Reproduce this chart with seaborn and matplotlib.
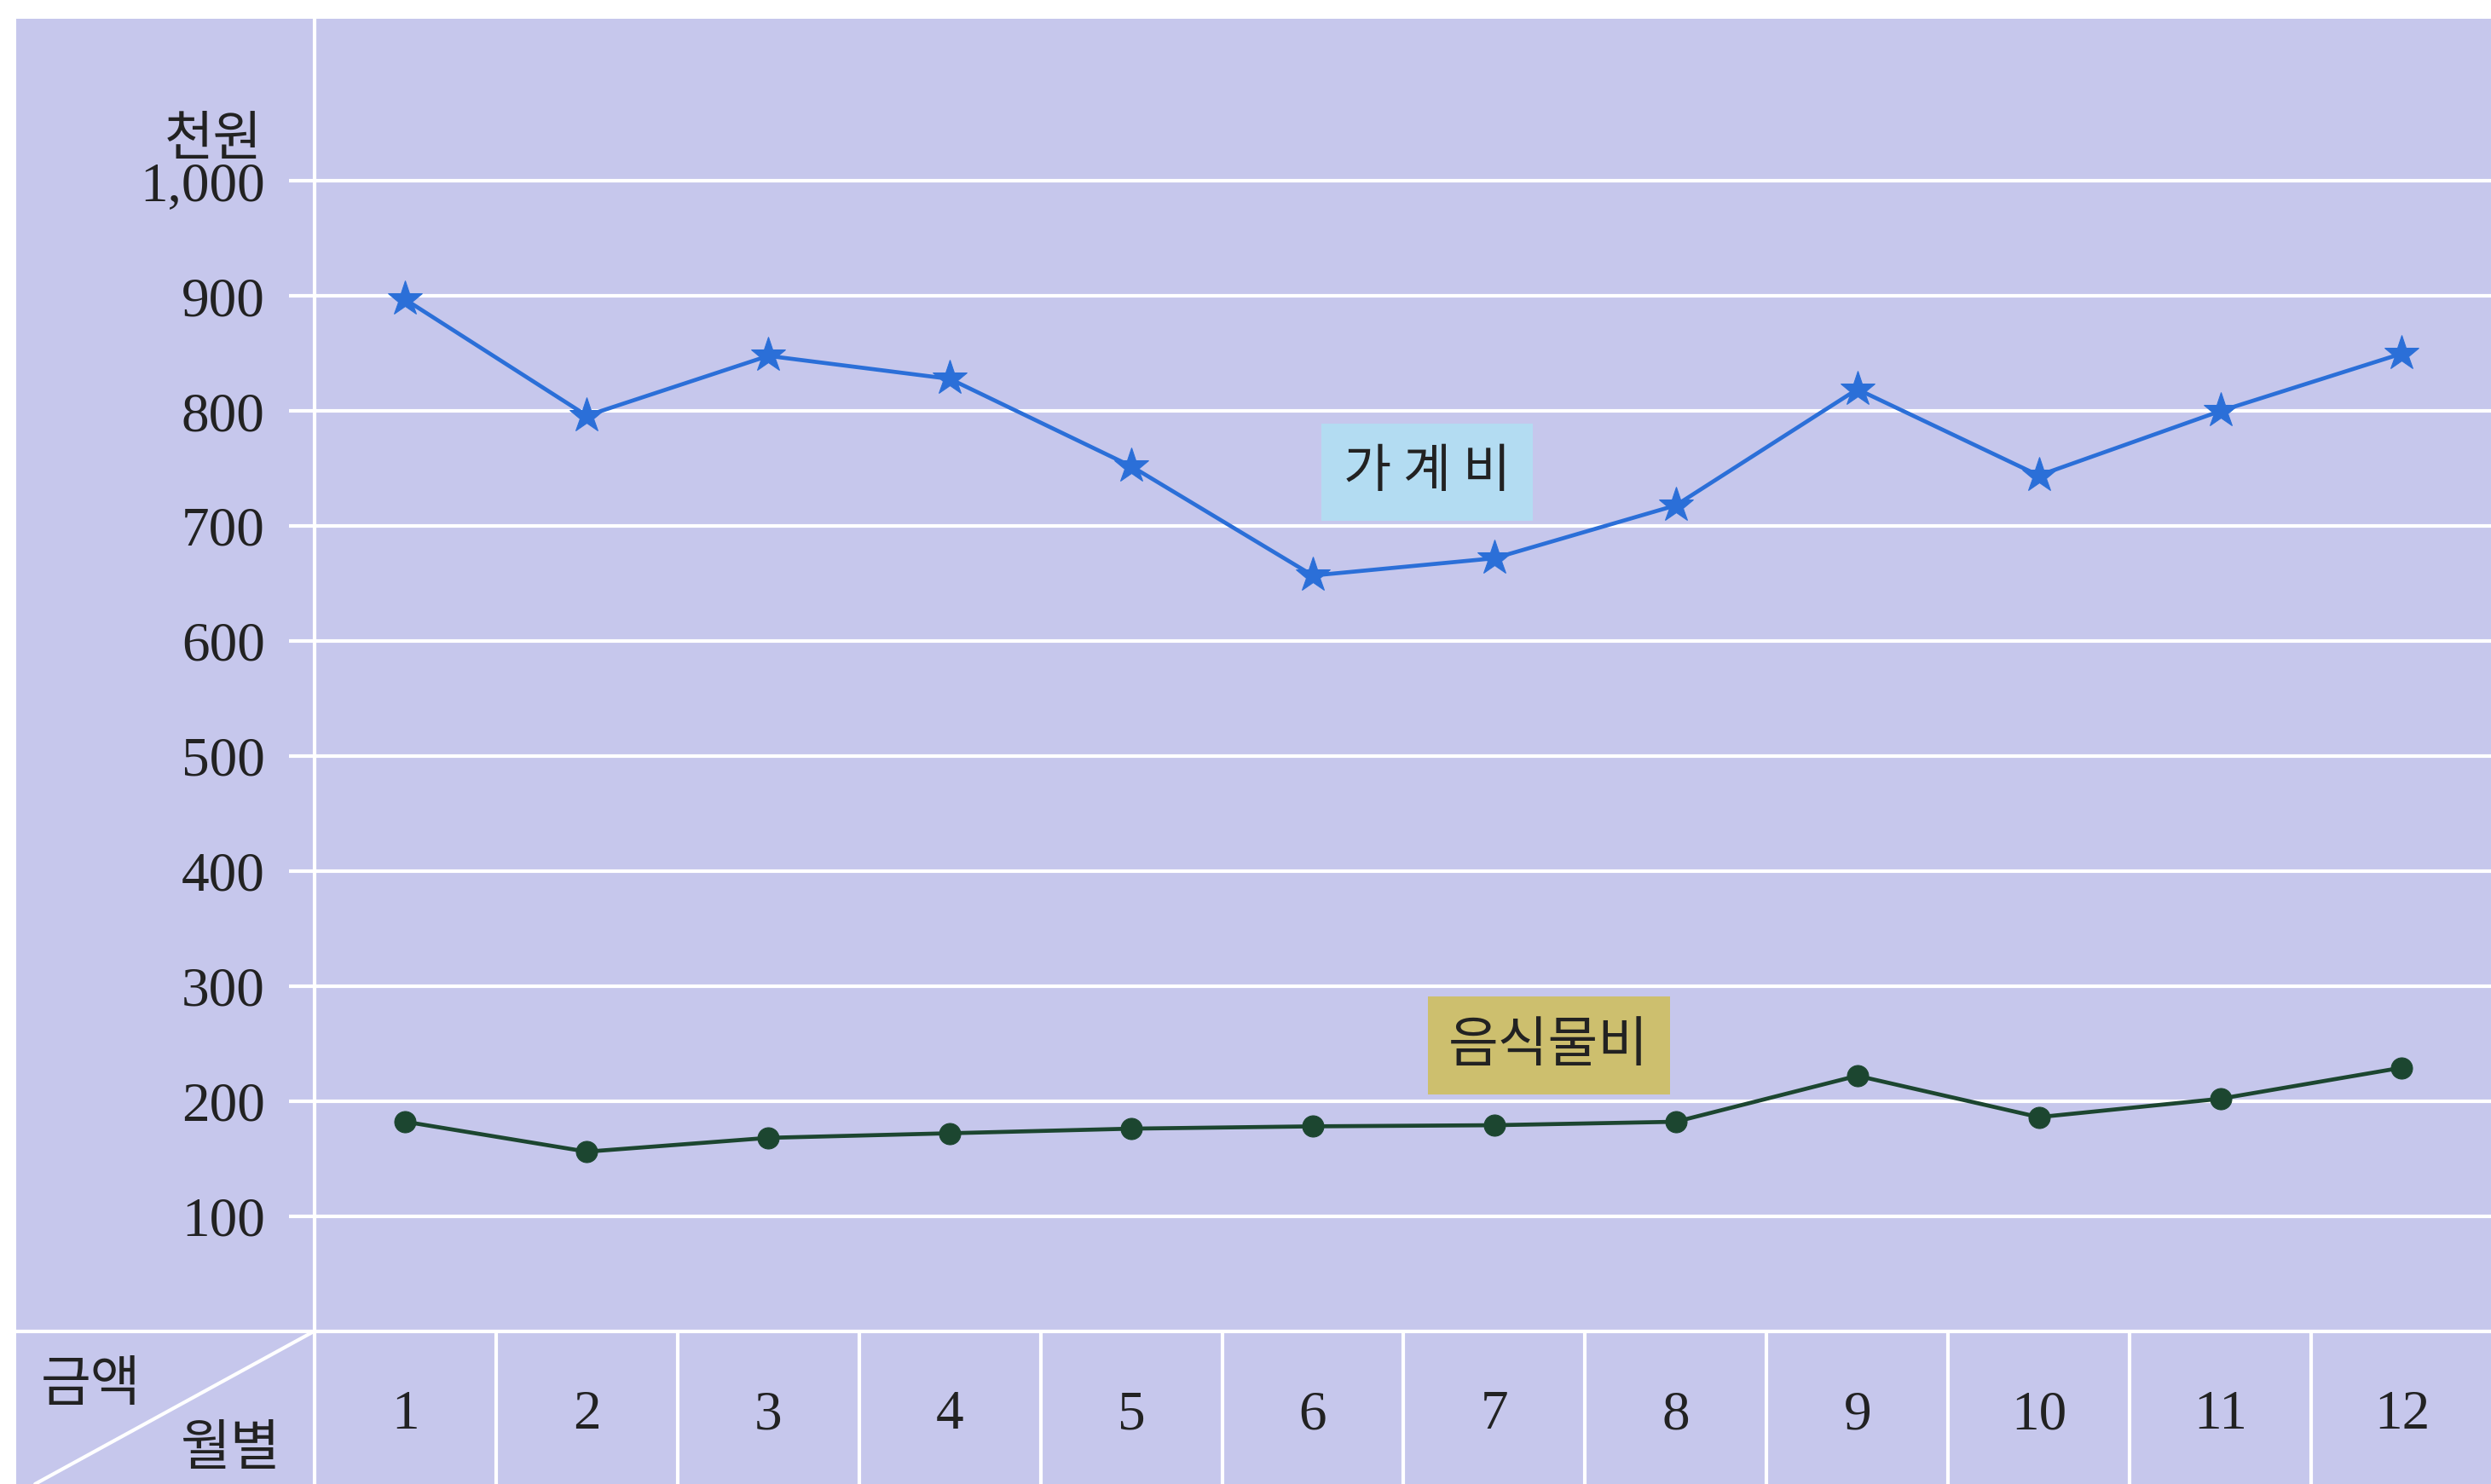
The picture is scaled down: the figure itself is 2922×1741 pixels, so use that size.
import pandas as pd
import seaborn as sns
import matplotlib.pyplot as plt
from matplotlib.patches import Rectangle

# data (unit: 천원)
months = list(range(1, 13))
household = [897, 796, 848, 828, 752, 657, 672, 718, 819, 744, 800, 850]
food = [182, 156, 168, 172, 176, 178, 179, 182, 222, 186, 202, 229]
series_names = ['가 계 비', '음식물비']
y_ticks = [100, 200, 300, 400, 500, 600, 700, 800, 900, 1000]
y_tick_labels = ['100', '200', '300', '400', '500', '600', '700', '800', '900', '1,000']
unit_label = '천원'
corner_top = '금액'
corner_bottom = '월별'

BG = '#c6c7ec'
KR = ['Noto Sans CJK KR', 'DejaVu Sans']
NUM = ['Liberation Serif', 'DejaVu Serif']


def household_chart():
    """Monthly household spending vs food spending."""
    df_h = pd.DataFrame({'month': months, 'amount': household})
    df_f = pd.DataFrame({'month': months, 'amount': food})

    sns.set_style('white')
    plt.rcParams['font.family'] = KR

    fig = plt.figure(figsize=(29.22, 17.41), dpi=100, facecolor='white')
    W, H = 1568.0, 934.3

    def fx(px):
        return px / W

    def fy(py):
        return 1 - py / H

    # lavender panel
    fig.patches.append(Rectangle((fx(10), 0), 1 - fx(10), fy(12), transform=fig.transFigure,
                                 facecolor=BG, edgecolor='none', zorder=-10))

    ax = fig.add_axes([fx(198), fy(838), fx(1569) - fx(198), fy(12) - fy(838)])
    ax.patch.set_alpha(0)
    ax.set_xlim(0.5, 12.5)
    ymax = (838 - 12) / 0.724
    ax.set_ylim(0, ymax)
    for s in ax.spines.values():
        s.set_visible(False)

    ybot = -(H - 838) / 0.724
    xleft = 0.5 - (198 - 10) / 114.3

    # grid lines
    ax.hlines(y_ticks, xmin=0.5 - 16 / 114.3, xmax=12.5, colors='white', lw=3,
              clip_on=False, zorder=1)
    # table lines
    ax.hlines(0, xmin=xleft, xmax=12.5, colors='white', lw=3, clip_on=False, zorder=1)
    ax.vlines(0.5, ybot, ymax, colors='white', lw=3, clip_on=False, zorder=1)
    ax.vlines([m + 0.5 for m in months[:-1]], ybot, 0, colors='white', lw=3,
              clip_on=False, zorder=1)
    ax.plot([0.5 - (198 - 22) / 114.3, 0.5], [ybot, 0], color='white', lw=3,
            clip_on=False, zorder=1)

    sns.lineplot(df_h, x='month', y='amount', color='#2b6fd8', lw=3.4, marker='*',
                 markersize=31, markeredgecolor='#2b6fd8', ax=ax, zorder=3)
    sns.lineplot(df_f, x='month', y='amount', color='#1c4630', lw=3.4, marker='o',
                 markersize=18, markeredgecolor='#1c4630', ax=ax, zorder=3)

    ax.set_xlabel('')
    ax.set_ylabel('')
    ax.set_yticks(y_ticks, y_tick_labels, family=NUM, fontsize=47, color='#222222')
    ax.set_xticks(months, [str(m) for m in months], family=NUM, fontsize=47, color='#222222')
    ax.tick_params(axis='y', length=0, pad=42)
    ax.tick_params(axis='x', length=0, pad=50)

    ax.text(-0.024, 1036, unit_label, transform=ax.get_yaxis_transform(), ha='right',
            va='center', fontsize=45, color='#222222')
    fig.text(fx(57), fy(872), corner_top, ha='center', va='center', fontsize=46, color='#222222')
    fig.text(fx(145), fy(912), corner_bottom, ha='center', va='center', fontsize=46, color='#222222')

    ax.text(6.63, 747, series_names[0], ha='center', va='center', fontsize=44, color='#222222',
            bbox=dict(boxstyle='square,pad=0.42', facecolor='#b3dcf2', edgecolor='none'), zorder=4)
    ax.text(7.3, 248, series_names[1], ha='center', va='center', fontsize=46, color='#222222',
            bbox=dict(boxstyle='square,pad=0.38', facecolor='#cdbf6e', edgecolor='none'), zorder=4)

    fig.savefig('out.png', dpi=100, facecolor='white')


def main():
    household_chart()


if __name__ == '__main__':
    main()
